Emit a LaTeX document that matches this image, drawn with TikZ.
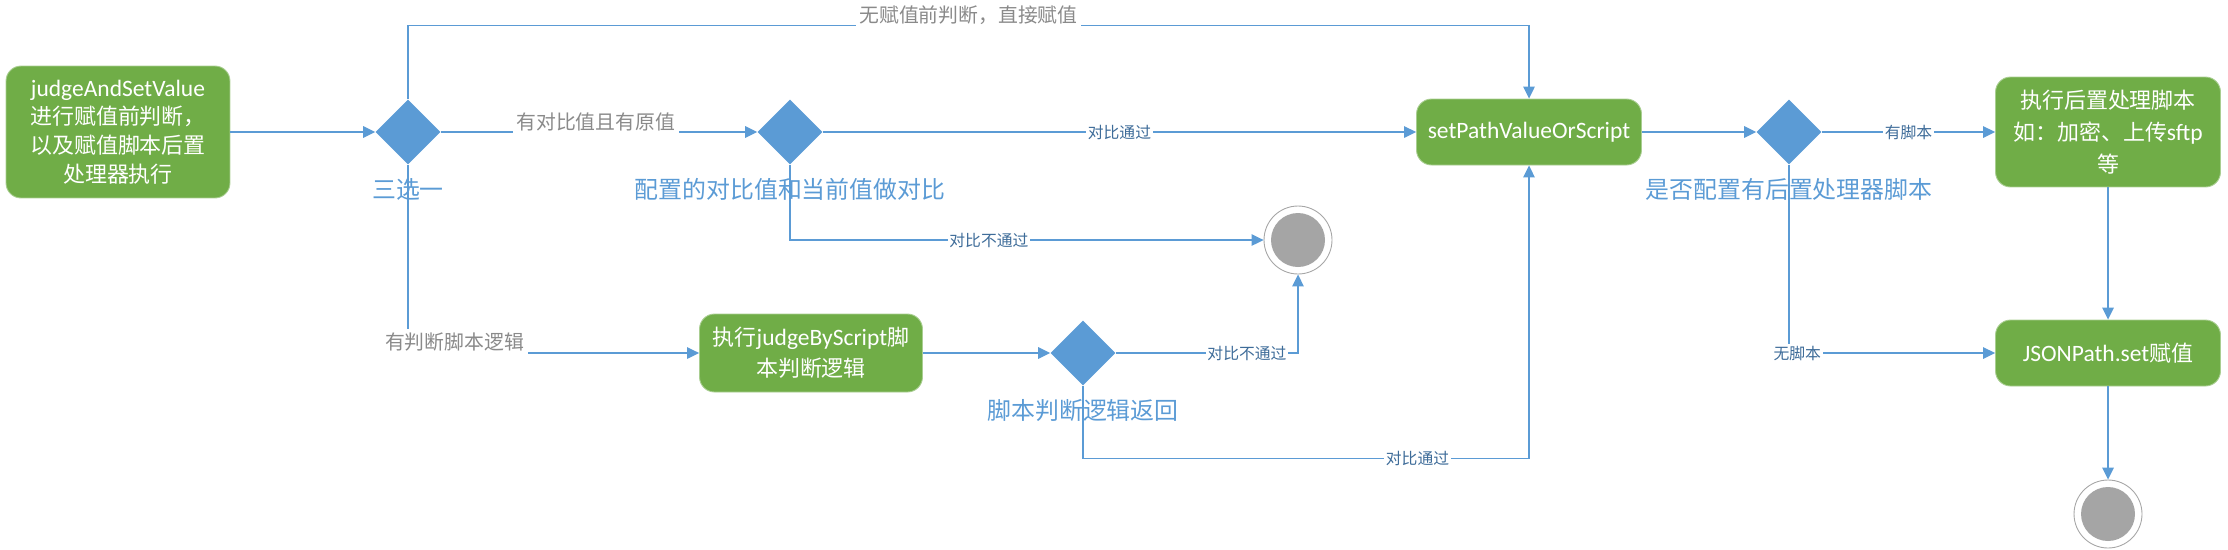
\documentclass[tikz,border=0pt]{standalone}
\usepackage{fontspec}
\setmainfont{Noto Sans CJK SC}
\newfontfamily\lat[Scale=1.07]{Carlito}
\usepackage{tikz}
\usetikzlibrary{arrows.meta, positioning, shapes.geometric}
\definecolor{actGreen}{HTML}{70AD47}
\definecolor{decBlue}{HTML}{5B9BD5}
\definecolor{flowBlue}{HTML}{5B9BD5}
\definecolor{tagBlue}{HTML}{3E6C99}
\definecolor{guardGray}{HTML}{8A8A8A}
\definecolor{endGray}{HTML}{A5A5A5}
\tikzset{
  actbox/.style={
    rounded corners=0.3cm, fill=actGreen, draw=actGreen!60!white, line width=0.5pt,
    text=white, align=center, font=\fontsize{12.5}{17.5}\selectfont,
    minimum width=4.5cm, minimum height=#1, inner sep=2pt
  },
  decision/.style={
    diamond, aspect=1, fill=decBlue, draw=none,
    minimum size=1.3cm, inner sep=0pt
  },
  declabel/.style={text=decBlue, font=\fontsize{13.6}{16}\selectfont, inner sep=0pt},
  finalnode/.style={
    circle, draw=gray!70, fill=white, line width=0.5pt,
    minimum size=1.36cm, inner sep=0pt,
    path picture={\fill[endGray] (path picture bounding box.center) circle (0.54cm);}
  },
  flow/.style={-{Triangle[length=0.24cm, width=0.23cm]}, draw=flowBlue, line width=0.8pt},
  guardtag/.style={fill=white, text=guardGray, font=\fontsize{11.3}{13}\selectfont, inner sep=2pt},
  smalltag/.style={fill=white, text=tagBlue, font=\fontsize{9}{11}\selectfont, inner sep=1pt}
}

\begin{document}
\begin{tikzpicture}[x=0.02cm, y=-0.02cm]
\useasboundingbox (0,0) rectangle (2228,549);

% activities
\node[actbox=2.64cm, minimum width=4.48cm, font=\fontsize{12.5}{16.4}\selectfont] (judge) at (118,132)
  {{\lat judgeAndSetValue}\\进行赋值前判断，\\以及赋值脚本后置\\处理器执行};
\node[actbox=1.32cm] (setpath) at (1529,132) {\lat setPathValueOrScript};
\node[actbox=2.2cm, font=\fontsize{12.5}{18}\selectfont] (postproc) at (2108,132) {执行后置处理脚本\\如：加密、上传{\lat sftp}\\等};
\node[actbox=1.56cm, minimum width=4.46cm] (byscript) at (811,353) {执行{\lat judgeByScript}脚\\本判断逻辑};
\node[actbox=1.32cm] (jsonset) at (2108,353) {{\lat JSONPath.set}赋值};

% decisions
\node[decision] (choose) at (408,132) {};
\node[decision] (compare) at (790,132) {};
\node[decision] (haspost) at (1789,132) {};
\node[decision] (scriptret) at (1083,353) {};

\node[declabel, below=0.27cm of choose] (chooselbl) {三选一};
\node[declabel, below=0.27cm of compare] (comparelbl) {配置的对比值和当前值做对比};
\node[declabel, below=0.27cm of haspost] (haspostlbl) {是否配置有后置处理器脚本};
\node[declabel, below=0.27cm of scriptret] (scriptretlbl) {脚本判断逻辑返回};

% final states
\node[finalnode] (stopfail) at (1298,240) {};
\node[finalnode] (stopdone) at (2108,514) {};

% flows
\draw[flow] (judge) -- (choose);
\draw[flow] (choose.north) -- ++(0,-73.5) -| node[guardtag, pos=0.25, yshift=0.2cm] {无赋值前判断，直接赋值} (setpath.north);
\draw[flow] (choose) -- node[guardtag, pos=0.49, yshift=0.2cm] {有对比值且有原值} (compare);
\draw[flow] (compare) -- node[smalltag] {对比通过} (setpath);
\draw[flow] (compare.south) |- node[smalltag, pos=0.71] {对比不通过} (stopfail);
\draw[flow] (choose.south) |- node[guardtag, pos=0.58, yshift=0.22cm] {有判断脚本逻辑} (byscript);
\draw[flow] (byscript) -- (scriptret);
\draw[flow] (scriptret) -| node[smalltag, pos=0.36] {对比不通过} (stopfail);
\draw[flow] (scriptret.south) -- ++(0,72.5) -| node[smalltag, pos=0.375] {对比通过} (setpath.south);
\draw[flow] (setpath) -- (haspost);
\draw[flow] (haspost) -- node[smalltag] {有脚本} (postproc);
\draw[flow] (haspost.south) |- node[smalltag, pos=0.52] {无脚本} (jsonset);
\draw[flow] (postproc) -- (jsonset);
\draw[flow] (jsonset) -- (stopdone);

\end{tikzpicture}
\end{document}
